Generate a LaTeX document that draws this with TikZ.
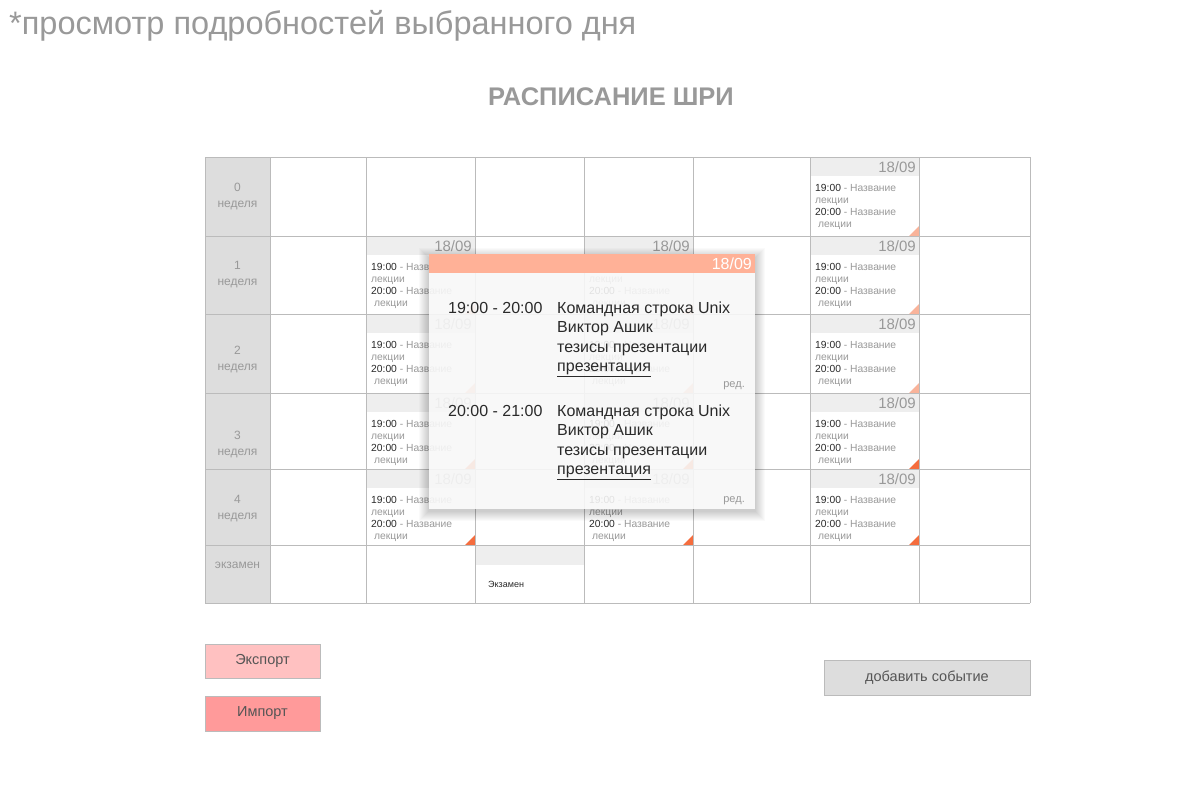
\documentclass[tikz,border=0pt]{standalone}
\usepackage{fontspec}
\setmainfont{Liberation Sans}
\usepackage{xcolor}
\definecolor{lineg}{HTML}{BBBBBB}
\definecolor{weekg}{HTML}{DDDDDD}
\definecolor{bandg}{HTML}{EEEEEE}
\definecolor{txtg}{HTML}{999999}
\definecolor{darkt}{HTML}{2A2A2A}
\definecolor{btntxt}{HTML}{555555}
\definecolor{popsalmon}{HTML}{FFB197}
\definecolor{trilight}{HTML}{F9B39A}
\definecolor{trired}{HTML}{F56D3E}
\definecolor{pinka}{HTML}{FFC1C1}
\definecolor{pinkb}{HTML}{FF9A9A}

\begin{document}
\begin{tikzpicture}[x=1pt,y=-1pt,
  gridline/.style={draw=lineg,line width=1pt},
  evtxt/.style={anchor=base west,inner sep=0pt,text=txtg,font=\fontsize{10.3}{12}\selectfont},
  datetxt/.style={anchor=east,inner sep=0pt,font=\fontsize{15}{18}\selectfont},
  weektxt/.style={align=center,inner sep=0pt,text=txtg,font=\fontsize{12}{16}\selectfont},
  poptxt/.style={anchor=base west,inner sep=0pt,text=darkt,font=\fontsize{16}{19}\selectfont},
  edittxt/.style={anchor=base east,inner sep=0pt,text=txtg,font=\fontsize{11}{13}\selectfont},
  btn/.style={draw=lineg,line width=1pt,text=btntxt,font=\fontsize{14.5}{17}\selectfont}]
\def\gl{205}
\def\gr{1030}
\def\gt{157}
\def\gb{603}
\def\pl{429}
\def\pr{755}
\def\pt{254}
\def\pb{509}
\useasboundingbox[fill=white] (0,0) rectangle (1200,800);

\node[anchor=base west,inner sep=0pt,text=txtg,font=\fontsize{32.5}{38}\selectfont] (subtitle) at (9,35) {*просмотр подробностей выбранного дня};
\node[inner sep=0pt,text=txtg,font=\fontsize{25.5}{30}\selectfont\bfseries] (title) at (611,97) {РАСПИСАНИЕ ШРИ};

\fill[weekg] (\gl,\gt) rectangle (270,\gb);
\foreach \n/\yy in {0/197,1/275,2/360,3/445,4/509} {
  \node[weektxt] (week\n) at (237.5,\yy) {\n\\неделя};
}
\node[weektxt] (exam) at (237.5,565) {экзамен};

\foreach \id/\cx/\ry/\rb/\tc in {a/810/157/236/trilight, b/366/236/314/trilight,
    c/584/236/314/trilight, d/810/236/314/trilight, e/366/314/393/trilight,
    f/584/314/393/trilight, g/810/314/393/trilight, h/366/393/469/trired,
    i/584/393/469/trired, j/810/393/469/trired, k/366/469/545/trired,
    l/584/469/545/trired, m/810/469/545/trired} {
  \fill[bandg] (\cx,\ry) rectangle (\cx+109,\ry+19);
  \node[datetxt,text=txtg] (date\id) at (\cx+106,\ry+10) {18/09};
  \node[evtxt] (one\id) at (\cx+5,\ry+34) {\textcolor{darkt}{19:00} - Название};
  \node[evtxt] (two\id) at (\cx+5,\ry+46) {лекции};
  \node[evtxt] (three\id) at (\cx+5,\ry+58) {\textcolor{darkt}{20:00} - Название};
  \node[evtxt] (four\id) at (\cx+8,\ry+70) {лекции};
  \fill[\tc] (\cx+109,\rb) -- ++(-10,0) -- ++(10,-10) -- cycle;
}
\fill[bandg] (475,545) rectangle (584,565);
\node[evtxt,text=darkt,font=\fontsize{9}{11}\selectfont] (examday) at (488,587) {Экзамен};

\foreach \x in {205,270,366,475,584,693,810,919,1030} {
  \draw[gridline] (\x,\gt) -- (\x,\gb);
}
\foreach \y in {157,236,314,393,469,545,603} {
  \draw[gridline] (\gl,\y) -- (\gr,\y);
}

\foreach \s in {1,...,10} {
  \fill[black,opacity=0.018] (\pl-\s,\pt-\s+4) rectangle (\pr+\s,\pb+\s+2);
}
\fill[white,opacity=0.87] (\pl,\pt) rectangle (\pr,\pb);
\fill[popsalmon] (\pl,\pt) rectangle (\pr,273);
\node[datetxt,text=white,font=\fontsize{16}{19}\selectfont] (popdate) at (\pr-3,264) {18/09};
\foreach \k/\yy/\ye/\tm in {1/313/387/19:00 - 20:00, 2/416/502/20:00 - 21:00} {
  \node[poptxt] (time\k) at (448,\yy) {\tm};
  \node[poptxt] (lect\k) at (557,\yy) {Командная строка Unix};
  \node[poptxt] (who\k) at (557,\yy+19.5) {Виктор Ашик};
  \node[poptxt] (thes\k) at (557,\yy+39) {тезисы презентации};
  \node[poptxt] (pres\k) at (557,\yy+58.5) {\underline{презентация}};
  \node[edittxt] (edit\k) at (745,\ye) {ред.};
}

\node[btn,fill=pinka,minimum width=115pt,minimum height=34pt] (export) at (262.5,661) {Экспорт};
\node[btn,fill=pinkb,minimum width=115pt,minimum height=35pt] (import) at (262.5,713.5) {Импорт};
\node[btn,fill=weekg,minimum width=206pt,minimum height=35pt] (addevent) at (927,677.5) {добавить событие};
\end{tikzpicture}
\end{document}
